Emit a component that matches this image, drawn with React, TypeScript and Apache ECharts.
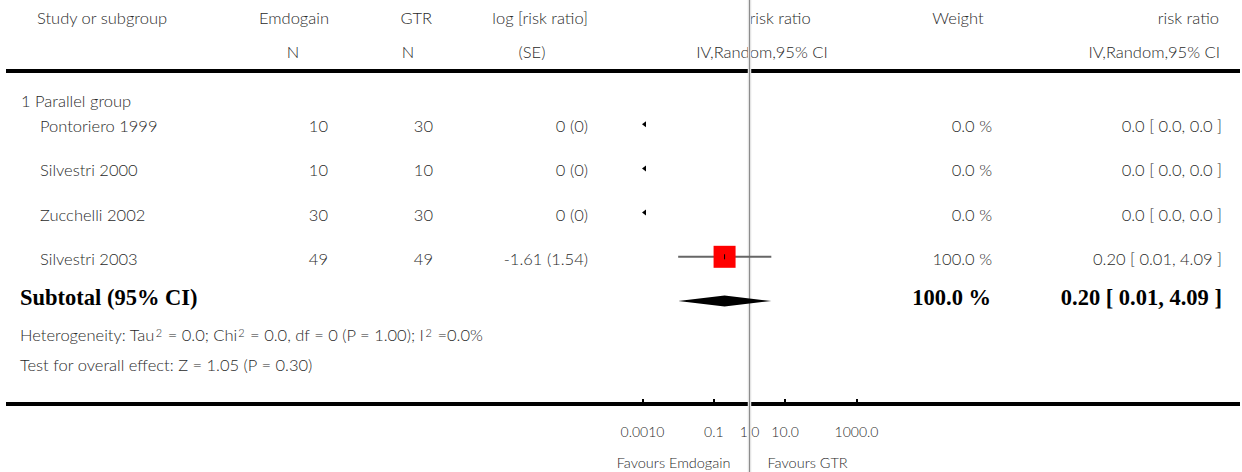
import React, { useEffect, useRef } from "react";
import * as echarts from "echarts";

// ---------- data ----------
const groupLabel = "1 Parallel group";
const studies = ["Pontoriero 1999", "Silvestri 2000", "Zucchelli 2002", "Silvestri 2003"];
const emdogainN = [10, 10, 30, 49];
const gtrN = [30, 10, 30, 49];
const logRR = [0, 0, 0, -1.61];
const logSE = [0, 0, 0, 1.54];
const riskRatio = [0, 0, 0, 0.2];
const ciLow = [0, 0, 0, 0.01];
const ciHigh = [0, 0, 0, 4.09];
const weightPct = [0, 0, 0, 100];

const subtotalRR = 0.2;
const subtotalLow = 0.01;
const subtotalHigh = 4.09;
const subtotalWeight = 100;

const heterogeneityText = "Heterogeneity: Tau² = 0.0; Chi² = 0.0, df = 0 (P = 1.00); I² =0.0%";
const overallText = "Test for overall effect: Z = 1.05 (P = 0.30)";

const axisMin = 0.001;
const axisMax = 1000;
const tickValues = [0.001, 0.1, 1, 10, 1000];
const tickLabels = ["0.0010", "0.1", "1.0", "10.0", "1000.0"];
const favoursLeft = "Favours Emdogain";
const favoursRight = "Favours GTR";

// ---------- helpers ----------
const FONT = "Lato";
const TXT = "#2a2a2a";
const W = 300;
const MAIN = `${W} 16.5px ${FONT}`;
const SMALL = `${W} 14.5px ${FONT}`;
const f2 = (v: number) => (v === 0 ? "0.0" : v.toFixed(2));
const fLog = (v: number) => (v === 0 ? "0" : v.toFixed(2));

export default function App() {
  const ref = useRef<HTMLDivElement>(null);

  useEffect(() => {
    const chart = echarts.init(ref.current!, null, { renderer: "svg" });

    const studyRows = studies.map((_, i) => i + 1);
    const subtotalRow = studies.length + 1;

    const ciData = studyRows
      .map((r, i) => [ciLow[i], ciHigh[i], r, riskRatio[i]])
      .filter((d) => d[0] > 0);
    const zeroRows = studyRows.filter((_, i) => riskRatio[i] === 0).map((r) => [axisMin, r]);
    const squareData = studyRows
      .map((r, i) => [riskRatio[i], r, weightPct[i]])
      .filter((d) => d[2] > 0);

    const baseOption: any = {
      animation: false,
      backgroundColor: "#fff",
      grid: { left: 642.5, width: 214, top: 80, height: 324, containLabel: false },
      xAxis: {
        type: "log",
        logBase: 10,
        position: "bottom",
        min: axisMin,
        max: axisMax,
        axisLine: { show: false, onZero: false },
        splitLine: { show: false },
        axisTick: {
          show: true,
          inside: true,
          length: 5,
          customValues: tickValues,
          lineStyle: { color: "#000", width: 2 },
        },
        axisLabel: {
          show: true,
          customValues: tickValues,
          margin: 20,
          fontFamily: FONT,
          fontWeight: W,
          fontSize: 14,
          color: TXT,
          formatter: (v: number) => {
            let best = 0;
            let bd = Infinity;
            tickValues.forEach((t, i) => {
              const d = Math.abs(Math.log10(t) - Math.log10(v));
              if (d < bd) {
                bd = d;
                best = i;
              }
            });
            return tickLabels[best];
          },
        },
      },
      yAxis: { type: "value", inverse: true, min: 0, max: 7.33, show: false },
      series: [
        {
          type: "custom",
          name: "ref",
          z: 1,
          clip: false,
          data: [[1, 0]],
          renderItem: (_p: any, api: any) => {
            const x = api.coord([api.value(0), 1])[0];
            const h = api.getHeight();
            return {
              type: "group",
              children: [
                { type: "line", shape: { x1: x, y1: 0, x2: x, y2: h }, style: { stroke: "#e4e4e4", lineWidth: 3.5 } },
                { type: "line", shape: { x1: x, y1: 0, x2: x, y2: h }, style: { stroke: "#8c8c8c", lineWidth: 1 } },
              ],
            };
          },
        },
        {
          type: "custom",
          name: "ci",
          z: 2,
          data: ciData,
          renderItem: (_p: any, api: any) => {
            const a = api.coord([api.value(0), api.value(2)]);
            const b = api.coord([api.value(1), api.value(2)]);
            return { type: "line", shape: { x1: a[0], y1: a[1], x2: b[0], y2: b[1] }, style: { stroke: "#666", lineWidth: 2 } };
          },
        },
        {
          type: "scatter",
          name: "rr",
          z: 3,
          symbol: "rect",
          symbolSize: (v: number[]) => Math.sqrt(v[2] / 100) * 22,
          itemStyle: { color: "#ff0000", opacity: 1 },
          data: squareData,
        },
        {
          type: "custom",
          name: "centre",
          z: 4,
          data: ciData,
          renderItem: (_p: any, api: any) => {
            const c = api.coord([api.value(3), api.value(2)]);
            return { type: "line", shape: { x1: c[0], y1: c[1] - 2.5, x2: c[0], y2: c[1] + 2.5 }, style: { stroke: "#000", lineWidth: 1 } };
          },
        },
        {
          type: "custom",
          name: "arrows",
          z: 4,
          clip: false,
          data: zeroRows,
          renderItem: (_p: any, api: any) => {
            const c = api.coord([api.value(0), api.value(1)]);
            return {
              type: "polygon",
              shape: { points: [[c[0] - 0.5, c[1]], [c[0] + 3.5, c[1] - 3], [c[0] + 3.5, c[1] + 3]] },
              style: { fill: "#000" },
            };
          },
        },
        {
          type: "custom",
          name: "diamond",
          z: 4,
          data: [[subtotalLow, subtotalRR, subtotalHigh, subtotalRow]],
          renderItem: (_p: any, api: any) => {
            const row = api.value(3);
            const l = api.coord([api.value(0), row]);
            const m = api.coord([api.value(1), row]);
            const r = api.coord([api.value(2), row]);
            const hh = 5.5;
            return {
              type: "polygon",
              shape: { points: [[l[0], l[1]], [m[0], m[1] - hh], [r[0], r[1]], [m[0], m[1] + hh]] },
              style: { fill: "#000" },
            };
          },
        },
      ],
    };

    chart.setOption(baseOption);

    const py = (row: number) => chart.convertToPixel({ gridIndex: 0 }, [1, row])[1];
    const px = (v: number) => chart.convertToPixel({ gridIndex: 0 }, [v, 1])[0];

    const t = (text: string, x: number, y: number, align: string, extra: any = {}) => ({
      type: "text",
      silent: true,
      style: {
        text,
        x,
        y,
        textAlign: align,
        textVerticalAlign: "middle",
        fill: extra.fill || TXT,
        font: extra.font || MAIN,
        ...(extra.rich ? { rich: extra.rich } : {}),
      },
    });

    const els: any[] = [];
    // rules
    els.push({ type: "line", shape: { x1: 6, y1: 71, x2: 1240, y2: 71 }, style: { stroke: "#000", lineWidth: 4 } });
    els.push({ type: "line", shape: { x1: 6, y1: 404, x2: 1240, y2: 404 }, style: { stroke: "#000", lineWidth: 4 } });

    // headers
    els.push(t("Study or subgroup", 37, 18, "left"));
    els.push(t("Emdogain", 329, 18, "right"));
    els.push(t("N", 293, 52, "center"));
    els.push(t("GTR", 432, 18, "right"));
    els.push(t("N", 408, 52, "center"));
    els.push(t("log [risk ratio]", 588, 18, "right"));
    els.push(t("(SE)", 532, 52, "center"));
    els.push(t("risk ratio", 780, 18, "center"));
    els.push(t("IV,Random,95% CI", 762, 52, "center"));
    els.push(t("Weight", 958, 18, "center"));
    els.push(t("risk ratio", 1219, 18, "right"));
    els.push(t("IV,Random,95% CI", 1220, 52, "right"));

    // group
    els.push(t(groupLabel, 21, 101, "left"));

    studies.forEach((s, i) => {
      const y = py(i + 1) + 2;
      els.push(t(s, 40, y, "left"));
      els.push(t(String(emdogainN[i]), 328, y, "right"));
      els.push(t(String(gtrN[i]), 433, y, "right"));
      els.push(t(`${fLog(logRR[i])} (${fLog(logSE[i])})`, 588, y, "right"));
      els.push(t(`${weightPct[i].toFixed(1)} %`, 992, y, "right"));
      els.push(t(`${f2(riskRatio[i])} [ ${f2(ciLow[i])}, ${f2(ciHigh[i])} ]`, 1222, y, "right"));
    });

    const ys = py(subtotalRow) - 3.5;
    const bold = { font: `bold 22.5px "Liberation Serif"`, fill: "#000" };
    els.push(t("Subtotal (95% CI)", 20, ys, "left", bold));
    els.push(t(`${subtotalWeight.toFixed(1)} %`, 991, ys, "right", bold));
    els.push(t(`${f2(subtotalRR)} [ ${f2(subtotalLow)}, ${f2(subtotalHigh)} ]`, 1222, ys, "right", bold));

    const supRich = {
      s: { fontFamily: FONT, fontWeight: W, fontSize: 11, verticalAlign: "top", fill: TXT, padding: [0, 1, 6, 1] },
    };
    els.push(t(heterogeneityText.replace(/²/g, "{s|2}"), 20, 335, "left", { rich: supRich }));
    els.push(t(overallText, 20, 365, "left"));

    const x1 = px(1);
    els.push(t(favoursLeft, x1 - 19, 462, "right", { font: SMALL }));
    els.push(t(favoursRight, x1 + 18, 462, "left", { font: SMALL }));

    chart.setOption({ graphic: { elements: els } });

    return () => chart.dispose();
  }, []);

  return (
    <div
      ref={ref}
      style={{ position: "fixed", left: 0, top: 0, width: 1242, height: 472, background: "#fff" }}
    />
  );
}
